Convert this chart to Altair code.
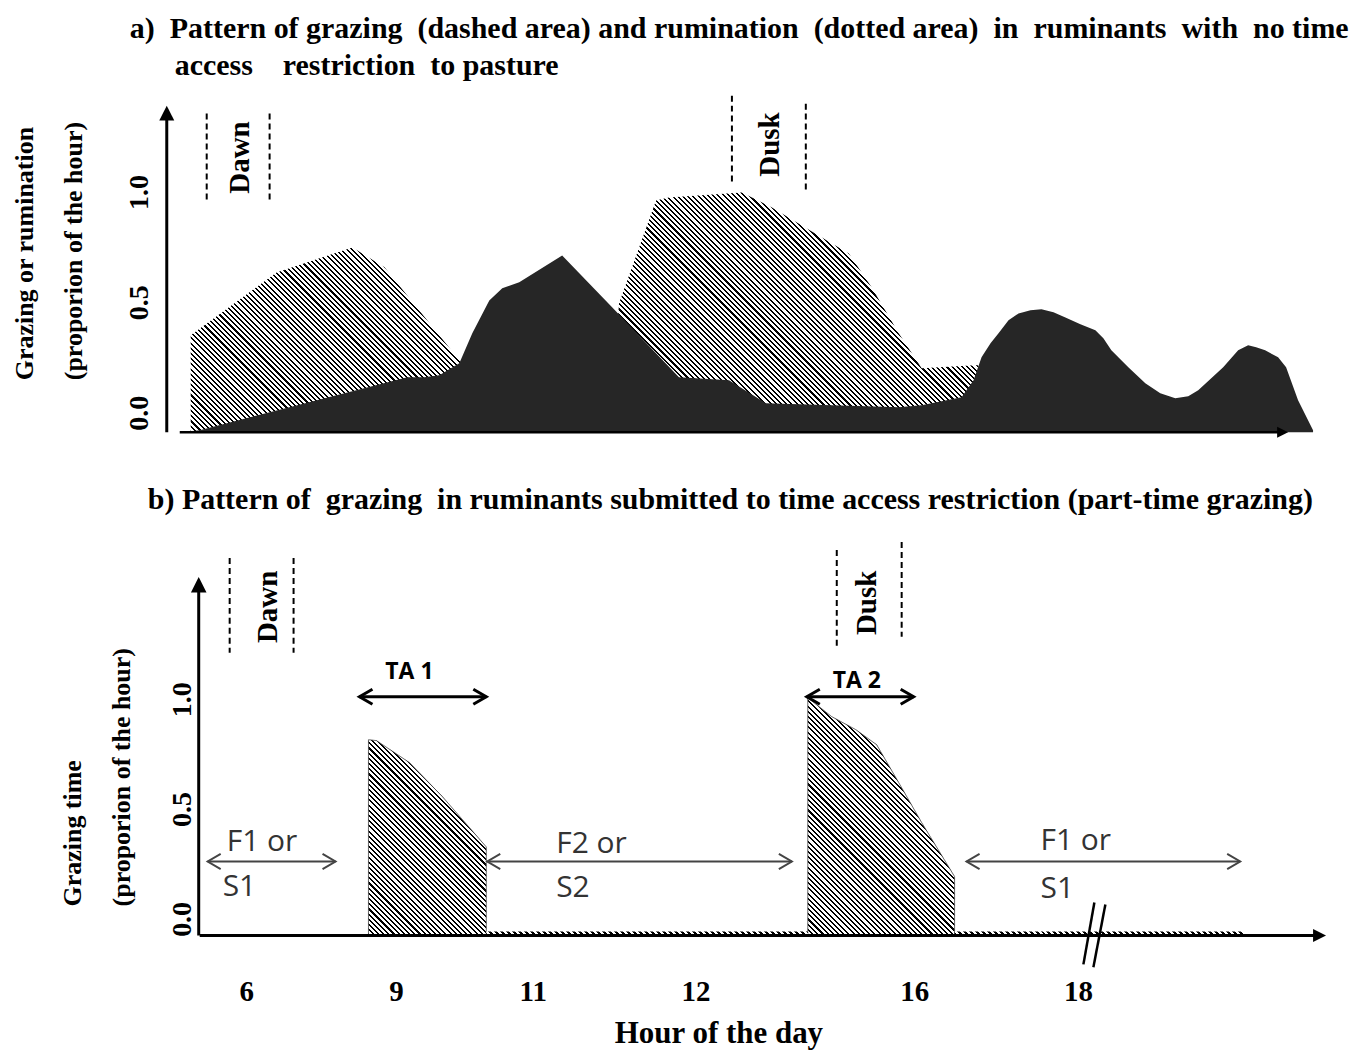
import altair as alt
import pandas as pd

# ---------------- data ----------------
# x: schematic position along the time axis (arbitrary units, the figure's own scale)
# v: proportion of the hour

# Panel a - grazing (hatched) and rumination (dark)
GRAZE_A_T = [191, 277, 353, 385, 460, 520, 612, 620, 657, 670, 743, 773, 823, 850, 873, 900, 923, 977, 980]
GRAZE_A_V = [0.353, 0.638, 0.751, 0.661, 0.240, 0.059, 0.059, 0.498, 0.964, 0.977, 1.000, 0.932,
             0.796, 0.724, 0.570, 0.362, 0.204, 0.217, 0.217]
RUMIN_A_T = [180, 200, 408, 425, 440, 460, 473, 490, 503, 520, 563, 613, 680, 730, 767, 900, 923,
             963, 975, 983, 992, 1000, 1010, 1020, 1032, 1043, 1055, 1067, 1082, 1097, 1105, 1113,
             1130, 1147, 1162, 1177, 1190, 1200, 1225, 1240, 1250, 1258, 1267, 1280, 1288, 1300, 1315]
RUMIN_A_V = [-0.086, -0.077, 0.163, 0.163, 0.172, 0.226, 0.362, 0.511, 0.566, 0.593, 0.715, 0.480,
             0.163, 0.149, 0.045, 0.027, 0.036, 0.072, 0.149, 0.253, 0.317, 0.362, 0.421, 0.452,
             0.466, 0.471, 0.457, 0.434, 0.403, 0.376, 0.339, 0.285, 0.208, 0.136, 0.090, 0.068,
             0.077, 0.104, 0.208, 0.285, 0.308, 0.299, 0.285, 0.253, 0.208, 0.059, -0.077]

# Panel b - grazing during the two time-access periods and the thin residual strips
TA1_T = [369, 377, 410, 443, 487]
TA1_V = [0.818, 0.814, 0.714, 0.559, 0.330]
TA2_T = [809, 833, 857, 878, 900, 923, 956]
TA2_V = [1.009, 0.923, 0.864, 0.795, 0.623, 0.441, 0.195]
STRIP1_T = [487, 809]
STRIP2_T = [956, 1245]
STRIP_V = [-0.055, -0.055]

Y_TICKS = [0.0, 0.5, 1.0]
Y_TICK_LABELS = ["0.0", "0.5", "1.0"]
HOUR_LABELS = ["6", "9", "11", "12", "16", "18"]
HOUR_T = [247, 397, 534, 697, 916, 1080]

BASE_A = -0.086   # level of the time axis in panel a
BASE_B = -0.073   # level of the time axis in panel b

# ---------------- layout ----------------
W = 1342
X_DOM = [8, 1350]
HA, HB = 462, 572
A_UNIT, B_UNIT = 221, 220
A_DOM = [(413 - 470) / A_UNIT, (413 - 8) / A_UNIT]
B_DOM = [(920 - 1042) / B_UNIT, (920 - 470) / B_UNIT]
PX_PER_T = W / (X_DOM[1] - X_DOM[0])

SERIF = "Liberation Serif"
SANS = "Open Sans"
NB = "\u00a0"


def hatch(ts, vs, base, unit, period=5.2, frac=0.4):
    Wb = (max(ts) - min(ts)) * PX_PER_T
    Hb = (max(vs) - base) * unit
    n = (Wb + Hb) / period
    stops = []
    k = 0
    while k < n:
        o0 = k / n
        o1 = min((k + frac) / n, 1.0)
        o2 = min((k + 1) / n, 1.0)
        stops += [alt.GradientStop(color="black", offset=o0),
                  alt.GradientStop(color="black", offset=o1),
                  alt.GradientStop(color="white", offset=o1),
                  alt.GradientStop(color="white", offset=o2)]
        k += 1
    a = Wb * (Wb + Hb) / (Wb * Wb + Hb * Hb)
    return alt.LinearGradient(gradient="linear", stops=stops,
                              x1=0, y1=1, x2=a, y2=1 - a * Hb / Wb)


def panel(dom):
    xs = alt.Scale(domain=X_DOM, nice=False, zero=False)
    ys = alt.Scale(domain=dom, nice=False, zero=False)
    X = lambda f="t": alt.X(f"{f}:Q", scale=xs, axis=None)
    Y = lambda f="v": alt.Y(f"{f}:Q", scale=ys, axis=None)
    return X, Y


def area(ts, vs, base, X, Y, fill, stroke=None):
    df = pd.DataFrame({"t": ts, "v": vs, "b": [base] * len(ts)})
    kw = dict(fill=fill, strokeWidth=0.8, opacity=1)
    if stroke:
        kw["stroke"] = stroke
    return alt.Chart(df).mark_area(**kw).encode(x=X(), y=Y(), y2=alt.Y2("b:Q"))


def texts(rows, X, Y, size, font=SERIF, weight="bold", angle=0, align="left", color="black"):
    df = pd.DataFrame(rows, columns=["t", "v", "label"])
    kw = dict(fontSize=size, font=font, fontWeight=weight, align=align, baseline="middle", color=color)
    if angle:
        kw["angle"] = angle
    return alt.Chart(df).mark_text(**kw).encode(x=X(), y=Y(), text="label:N")


def rules(rows, X, Y, width=2, dash=None, color="black"):
    df = pd.DataFrame(rows, columns=["t", "t2", "v", "v2"])
    kw = dict(strokeWidth=width, color=color)
    if dash:
        kw["strokeDash"] = dash
    return alt.Chart(df).mark_rule(**kw).encode(x=X(), x2=alt.X2("t2:Q"), y=Y(), y2=alt.Y2("v2:Q"))


def heads(rows, X, Y, shape, size, filled, width=2, color="black"):
    df = pd.DataFrame(rows, columns=["t", "v"])
    return alt.Chart(df).mark_point(shape=shape, size=size, filled=filled, strokeWidth=width,
                                    color=color, opacity=1).encode(x=X(), y=Y())


UP = "M0,0L-0.6,1.2L0.6,1.2Z"
RIGHT = "M0,0L-1,-0.5L-1,0.5Z"
CHEV_L = "M1,-0.58L0,0L1,0.58"
CHEV_R = "M-1,-0.58L0,0L-1,0.58"

# ---------------- panel a ----------------
XA, YA = panel(A_DOM)
va = lambda py: (413 - py) / A_UNIT
title_a1 = ("a)" + NB + " Pattern of grazing " + NB + "(dashed area) and rumination " + NB + "(dotted area) "
            + NB + "in " + NB + "ruminants " + NB + "with " + NB + "no time")
title_a2 = "access " + NB * 3 + "restriction " + NB + "to pasture"
a_layers = [
    area(GRAZE_A_T, GRAZE_A_V, BASE_A, XA, YA, hatch(GRAZE_A_T, GRAZE_A_V, BASE_A, A_UNIT)),
    area(RUMIN_A_T, RUMIN_A_V, BASE_A, XA, YA, "#262626"),
    rules([[167, 167, BASE_A, va(112)]], XA, YA, width=3),
    rules([[180, 1282, BASE_A, BASE_A]], XA, YA, width=2.5),
    heads([[167, va(105)]], XA, YA, UP, 625, True),
    heads([[1290, BASE_A]], XA, YA, RIGHT, 484, True),
    rules([[207, 207, va(113), va(202)], [270, 270, va(113), va(202)],
           [733, 733, va(95), va(185)], [807, 807, va(103), va(193)]], XA, YA, width=2, dash=[6, 4]),
    texts([[240, va(157), "Dawn"], [771, va(144), "Dusk"]], XA, YA, 29, angle=270, align="center"),
    texts([[140, v, s] for v, s in zip(Y_TICKS, Y_TICK_LABELS)], XA, YA, 28, angle=270, align="center"),
    texts([[25, va(380), "Grazing or rumination"], [74, va(380), "(proporion of the hour)"]],
          XA, YA, 26, angle=270, align="left"),
    texts([[130, va(28), title_a1], [175, va(65), title_a2]], XA, YA, 30),
]
panel_a = alt.layer(*a_layers).properties(width=W, height=HA)

# ---------------- panel b ----------------
XB, YB = panel(B_DOM)
vb = lambda py: (920 - py) / B_UNIT
title_b = ("b) Pattern of " + NB + "grazing " + NB + "in ruminants submitted to time access restriction "
           "(part-time grazing)")
b_layers = [
    area(TA1_T, TA1_V, BASE_B, XB, YB, hatch(TA1_T, TA1_V, BASE_B, B_UNIT), stroke="#444"),
    area(TA2_T, TA2_V, BASE_B, XB, YB, hatch(TA2_T, TA2_V, BASE_B, B_UNIT), stroke="#444"),
    area(STRIP1_T, STRIP_V, BASE_B, XB, YB, hatch(STRIP1_T, STRIP_V, BASE_B, B_UNIT, period=6, frac=0.5)),
    area(STRIP2_T, STRIP_V, BASE_B, XB, YB, hatch(STRIP2_T, STRIP_V, BASE_B, B_UNIT, period=6, frac=0.5)),
    rules([[199, 199, BASE_B, vb(590)]], XB, YB, width=3),
    rules([[200, 1318, BASE_B, BASE_B]], XB, YB, width=3),
    heads([[199, vb(577)]], XB, YB, UP, 676, True),
    heads([[1328, BASE_B]], XB, YB, RIGHT, 676, True),
    rules([[1096, 1085, vb(903), vb(965)], [1107, 1095, vb(905), vb(968)]], XB, YB, width=2.5),
    rules([[230, 230, vb(558), vb(653)], [294, 294, vb(558), vb(653)],
           [838, 838, vb(550), vb(647)], [903, 903, vb(542), vb(637)]], XB, YB, width=2, dash=[6, 4]),
    texts([[268, vb(607), "Dawn"], [868, vb(603), "Dusk"]], XB, YB, 29, angle=270, align="center"),
    # time-access arrows
    rules([[360, 487, vb(697), vb(697)], [808, 915, vb(697), vb(697)]], XB, YB, width=3),
    heads([[360, vb(697)], [808, vb(697)]], XB, YB, CHEV_L, 676, False, width=3),
    heads([[487, vb(697)], [915, vb(697)]], XB, YB, CHEV_R, 676, False, width=3),
    texts([[410, vb(672), "TA 1"], [858, vb(681), "TA 2"]], XB, YB, 23, font=SANS, align="center"),
    # fasting / supplementation arrows
    rules([[208, 336, vb(862), vb(862)], [488, 793, vb(862), vb(862)], [968, 1242, vb(862), vb(862)]],
          XB, YB, width=2, color="#444"),
    heads([[208, vb(862)], [488, vb(862)], [968, vb(862)]], XB, YB, CHEV_L, 676, False, color="#444"),
    heads([[336, vb(862)], [793, vb(862)], [1242, vb(862)]], XB, YB, CHEV_R, 676, False, color="#444"),
    texts([[227, vb(842), "F1 or"], [223, vb(888), "S1"], [557, vb(844), "F2 or"], [557, vb(889), "S2"],
           [1042, vb(841), "F1 or"], [1042, vb(890), "S1"]], XB, YB, 30, font=SANS, weight="normal",
          color="#333"),
    texts([[183, v, s] for v, s in zip(Y_TICKS, Y_TICK_LABELS)], XB, YB, 28, angle=270, align="center"),
    texts([[73, vb(907), "Grazing time"], [122, vb(907), "(proporion of the hour)"]],
          XB, YB, 26, angle=270, align="left"),
    texts([[t, vb(993), s] for t, s in zip(HOUR_T, HOUR_LABELS)], XB, YB, 29, align="center"),
    texts([[720, vb(1035), "Hour of the day"]], XB, YB, 31, align="center"),
    texts([[148, vb(500), title_b]], XB, YB, 30),
]
panel_b = alt.layer(*b_layers).properties(width=W, height=HB)

chart = alt.vconcat(panel_a, panel_b, spacing=0, bounds="flush").properties(padding=0).configure_view(stroke=None)
chart.save("out.html", embed_options={"renderer": "svg", "actions": False})
